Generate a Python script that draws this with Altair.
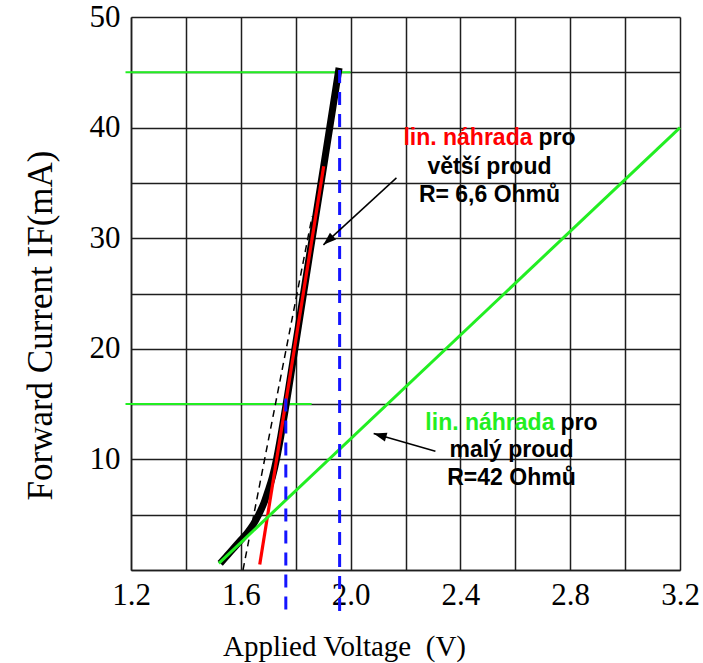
import math
import altair as alt
import pandas as pd

# ---------------- data ----------------
x_grid = [1.2, 1.4, 1.6, 1.8, 2.0, 2.2, 2.4, 2.6, 2.8, 3.0, 3.2]
y_grid = [0, 5, 10, 15, 20, 25, 30, 35, 40, 45, 50]

# measured LED characteristic (thick black curve)
curve_v = [1.525, 1.55, 1.575, 1.60, 1.625, 1.645, 1.665, 1.685, 1.70, 1.715,
           1.73, 1.745, 1.76, 1.78, 1.85, 1.90, 1.958]
curve_i = [0.6, 1.3, 2.0, 2.7, 3.4, 4.1, 5.0, 6.1, 7.2, 8.4,
           10.0, 12.0, 14.2, 17.3, 28.4, 36.2, 45.4]

# linear replacement for larger current (red)
red_v = [1.669, 1.902]
red_i = [0.5, 36.5]

# linear replacement for small current (green)
green_v = [1.52, 3.2]
green_i = [0.6, 40.0]

# thin black dashed tangent
dash_v = [1.608, 1.86]
dash_i = [0.0, 32.0]

# green horizontal helper lines
hline_i = [45, 15]
hline_v0 = [1.18, 1.18]
hline_v1 = [2.0, 1.858]

# blue dashed vertical helper lines
vline_v = [1.764, 1.96]
vline_i0 = [15.5, 45.2]
vline_i1 = [-4.0, -4.0]

# arrows
arrow_tail_v = [2.167, 2.309]
arrow_tail_i = [35.45, 10.74]
arrow_head_v = [1.901, 2.084]
arrow_head_i = [29.4, 12.34]

# annotation texts
ann_center_v = [2.506, 2.586]
ann_baselines = [[38.43, 35.81, 33.30], [12.7, 10.2, 7.66]]
ann_prefix = ["lin. náhrada", "lin. náhrada"]
ann_suffix = ["pro", "pro"]
ann_lines = [["větší proud", "R= 6,6 Ohmů"], ["malý proud", "R=42 Ohmů"]]
ann_colors = ["#ff0000", "#22ee22"]

# ---------------- layout ----------------
W, H = 549, 553
PAD = {"left": 131, "top": 17, "right": 703 - 131 - W, "bottom": 663 - 17 - H}
px_per_v = W / (x_grid[-1] - x_grid[0])
px_per_i = H / (y_grid[-1] - y_grid[0])

GRID = "#1e1e1e"
GREEN = "#22ee22"
SERIF = "Liberation Serif"

xs = alt.Scale(domain=[x_grid[0], x_grid[-1]], nice=False, zero=False)
ys = alt.Scale(domain=[y_grid[0], y_grid[-1]], nice=False, zero=False)

x_axis = alt.Axis(
    values=x_grid,
    labelExpr="round(datum.value*10) % 4 == 0 ? format(datum.value, '.1f') : ''",
    grid=True, gridColor=GRID, gridWidth=1.5, gridOpacity=1,
    domainColor=GRID, domainWidth=1.5,
    ticks=False, tickSize=0,
    labelFont=SERIF, labelFontSize=31, labelColor="black", labelPadding=10,
    labelFlush=False, labelOverlap=False,
    title="Applied Voltage\u00a0 (V)", titleFont=SERIF, titleFontSize=29,
    titleFontWeight="normal", titleColor="black",
    titleX=213, titleY=85, titleAlign="center", titleBaseline="alphabetic",
)
y_axis = alt.Axis(
    values=y_grid,
    labelExpr="datum.value % 10 == 0 && datum.value > 0 ? datum.label : ''",
    grid=True, gridColor=GRID, gridWidth=1.5, gridOpacity=1,
    domainColor=GRID, domainWidth=1.5,
    ticks=False, tickSize=0,
    labelFont=SERIF, labelFontSize=31, labelColor="black", labelPadding=11,
    labelFlush=False, labelOverlap=False,
    title="Forward Current IF(mA)", titleFont=SERIF, titleFontSize=35,
    titleFontWeight="normal", titleColor="black",
    titleAngle=270, titleX=-80, titleY=308, titleAlign="center",
    titleBaseline="alphabetic",
)

X = lambda f: alt.X(f, type="quantitative", scale=xs, axis=x_axis)
Y = lambda f: alt.Y(f, type="quantitative", scale=ys, axis=y_axis)

# ---------------- layers ----------------
hl_df = pd.DataFrame({"V": hline_v0, "V2": hline_v1, "I": hline_i})
hlines = alt.Chart(hl_df).mark_rule(color=GREEN, strokeWidth=2).encode(
    x=X("V"), x2="V2", y=Y("I"))

dash = alt.Chart(pd.DataFrame({"V": dash_v, "I": dash_i})).mark_line(
    color="black", strokeWidth=1.5, strokeDash=[7, 5]).encode(x=X("V"), y=Y("I"))

curve = alt.Chart(pd.DataFrame({"V": curve_v, "I": curve_i})).mark_line(
    color="black", strokeWidth=7, strokeCap="butt", strokeJoin="round",
    interpolate="monotone").encode(x=X("V"), y=Y("I"))

red = alt.Chart(pd.DataFrame({"V": red_v, "I": red_i})).mark_line(
    color="#ff0000", strokeWidth=3.2).encode(x=X("V"), y=Y("I"))

green = alt.Chart(pd.DataFrame({"V": green_v, "I": green_i})).mark_line(
    color=GREEN, strokeWidth=3).encode(x=X("V"), y=Y("I"))

vl_df = pd.DataFrame({"V": vline_v, "I": vline_i0, "I2": vline_i1})
vlines = alt.Chart(vl_df).mark_rule(
    color="#1414ff", strokeWidth=3, strokeDash=[13, 9]).encode(
    x=X("V"), y=Y("I"), y2="I2")

# arrows: shaft + head (custom symbol with tip at the origin)
angles = []
for tv, ti, hv, hi in zip(arrow_tail_v, arrow_tail_i, arrow_head_v, arrow_head_i):
    dx = (hv - tv) * px_per_v
    dy = -(hi - ti) * px_per_i
    angles.append(math.degrees(math.atan2(dx, -dy)) % 360)
arr_df = pd.DataFrame({"V": arrow_tail_v, "I": arrow_tail_i,
                       "V2": arrow_head_v, "I2": arrow_head_i, "ang": angles})
shafts = alt.Chart(arr_df).mark_rule(color="black", strokeWidth=1.5).encode(
    x=X("V"), y=Y("I"), x2="V2", y2="I2")
heads = alt.Chart(arr_df).mark_point(
    shape="M0,0L-0.42,1.2L0.42,1.2Z", filled=True, color="black", opacity=1,
    size=470).encode(
    x=X("V2"), y=Y("I2"), angle=alt.Angle("ang:Q", scale=None))

# annotation texts
rows_pre, rows_suf, rows_plain = [], [], []
for k in range(2):
    base = ann_baselines[k]
    rows_pre.append({"V": ann_center_v[k], "I": base[0], "t": ann_prefix[k], "c": ann_colors[k]})
    rows_suf.append({"V": ann_center_v[k], "I": base[0], "t": ann_suffix[k]})
    for j, line in enumerate(ann_lines[k]):
        rows_plain.append({"V": ann_center_v[k], "I": base[j + 1], "t": line})

txt = dict(font="Liberation Sans", fontWeight="bold", fontSize=23, baseline="alphabetic")
t_pre = alt.Chart(pd.DataFrame(rows_pre)).mark_text(align="right", dx=43, **txt).encode(
    x=X("V"), y=Y("I"), text="t:N", color=alt.Color("c:N", scale=None))
t_suf = alt.Chart(pd.DataFrame(rows_suf)).mark_text(align="left", dx=49, color="black", **txt).encode(
    x=X("V"), y=Y("I"), text="t:N")
t_plain = alt.Chart(pd.DataFrame(rows_plain)).mark_text(align="center", color="black", **txt).encode(
    x=X("V"), y=Y("I"), text="t:N")

chart = alt.layer(
    hlines, dash, curve, red, green, vlines, shafts, heads, t_pre, t_suf, t_plain
).properties(
    width=W, height=H, padding=PAD,
    autosize=alt.AutoSizeParams(type="none"),
    background="white",
).configure_view(stroke=None)

chart.save("out.html", embed_options={"renderer": "svg", "actions": False})
